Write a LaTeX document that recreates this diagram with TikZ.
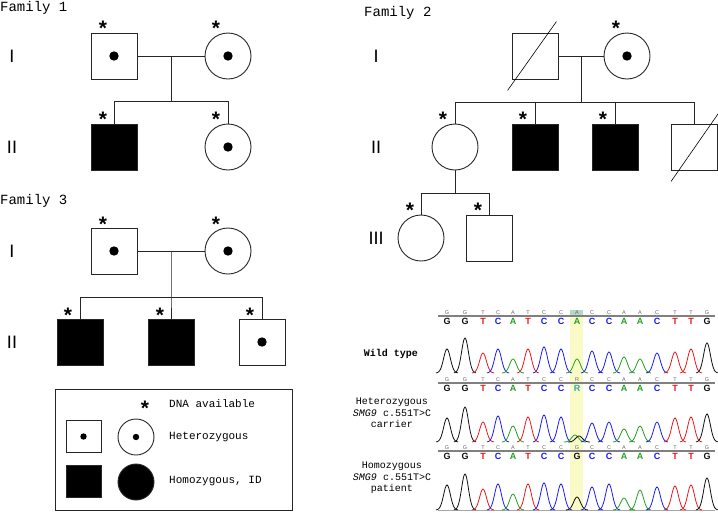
\documentclass[tikz,border=0pt]{standalone}
\usepackage{fontspec}
\setmainfont{Liberation Mono}
\newfontfamily\sansf{Liberation Sans}
\usetikzlibrary{calc}
\definecolor{gk}{HTML}{101010}
\definecolor{tr}{HTML}{E81818}
\definecolor{cb}{HTML}{1A1AF0}
\definecolor{ag}{HTML}{22A022}
\definecolor{hl}{HTML}{FAFAC6}
\definecolor{hlt}{HTML}{B4D8C8}
\definecolor{rt}{HTML}{30A8B8}
\newcommand\peaksrow[2]{%
  \foreach \px/\py/\pc in {#2}{%
    \pgfmathsetmacro\lo{\px-11}\pgfmathsetmacro\hi{\px+11}%
    \draw[color=\pc, line width=0.8pt] plot[domain=\lo:\hi, samples=25, smooth, variable=\t]
      (\t,{#1-(#1-\py)*exp(-((\t-\px)/4.8)^2)});
  }}
\newcommand\lettersrow[2]{%
  \foreach \px/\l/\pc in {#2}{%
    \node[biglet, text=\pc] at (\px,#1+5) {\l};
    \node[smalllet] at (\px,#1-3) {\l};
  }}
\begin{document}
\begin{tikzpicture}[x=1pt,y=-1pt,
  ped/.style={draw=black!85, line width=0.9pt},
  sq/.style={ped, rectangle, minimum size=46pt, inner sep=0pt},
  ci/.style={ped, circle, minimum size=46pt, inner sep=0pt},
  aff/.style={fill=black},
  ast/.style={font=\sansf\bfseries\fontsize{21}{21}\selectfont, inner sep=0pt, anchor=base},
  gen/.style={font=\sansf\fontsize{18}{18}\selectfont, inner sep=0pt},
  fam/.style={font=\fontsize{14}{14}\selectfont, inner sep=0pt, anchor=base west},
  legtxt/.style={font=\fontsize{11}{11}\selectfont, inner sep=0pt, anchor=west},
  chlab/.style={font=\fontsize{10}{11.5}\selectfont, inner sep=0pt, align=center},
  biglet/.style={font=\sansf\bfseries\fontsize{9}{9}\selectfont, inner sep=0pt},
  smalllet/.style={font=\sansf\fontsize{5.5}{5.5}\selectfont, inner sep=0pt, text=black!60},
  axisl/.style={draw=black!50, line width=1.3pt}]
\useasboundingbox (0,0) rectangle (718,512);

% ---------- Family 1 ----------
\node[fam] (fam1) at (0,11) {Family 1};
\node[gen] (g1a) at (12,56) {I};
\node[gen] (g1b) at (12,147) {II};
\node[sq] (f1a) at (114,56) {};
\node[ci] (f1b) at (228,56) {};
\node[sq,aff] (f1c) at (114,147) {};
\node[ci] (f1d) at (228,147) {};
\fill (f1a.center) circle (4.7);
\fill (f1b.center) circle (4.7);
\fill (f1d.center) circle (4.7);
\coordinate (f1m) at (171,56);
\coordinate (f1s) at (171,101);
\draw[ped] (f1a) -- (f1b);
\draw[ped] (f1m) -- (f1s);
\draw[ped] (f1c.north) -- (f1c.north |- f1s) -- (f1d.north |- f1s) -- (f1d.north);
\node[ast] (s1a) at (103,35) {*};
\node[ast] (s1b) at (216,35) {*};
\node[ast] (s1c) at (103,126) {*};
\node[ast] (s1d) at (216,126) {*};

% ---------- Family 3 ----------
\node[fam] (fam3) at (0,204) {Family 3};
\node[gen] (g3a) at (12,251) {I};
\node[gen] (g3b) at (12,342) {II};
\node[sq] (f3a) at (114,251) {};
\node[ci] (f3b) at (228,251) {};
\node[sq,aff] (f3c) at (80,342) {};
\node[sq,aff] (f3d) at (171,342) {};
\node[sq] (f3e) at (262,342) {};
\fill (f3a.center) circle (4.7);
\fill (f3b.center) circle (4.7);
\fill (f3e.center) circle (4.7);
\coordinate (f3m) at (171,251);
\coordinate (f3s) at (171,297);
\draw[ped] (f3a) -- (f3b);
\draw[ped] (f3m) -- (f3s) -- (f3d.north);
\draw[ped] (f3c.north) -- (f3c.north |- f3s) -- (f3e.north |- f3s) -- (f3e.north);
\node[ast] (s3a) at (103,231) {*};
\node[ast] (s3b) at (216,231) {*};
\node[ast] (s3c) at (68,322) {*};
\node[ast] (s3d) at (160,322) {*};
\node[ast] (s3e) at (250,322) {*};

% ---------- Family 2 ----------
\node[fam] (fam2) at (364,16) {Family 2};
\node[gen] (g2a) at (376,56) {I};
\node[gen] (g2b) at (376,147) {II};
\node[gen] (g2c) at (376,238) {III};
\node[sq] (f2a) at (535,56) {};
\node[ci] (f2b) at (627,56) {};
\fill (f2b.center) circle (4.7);
\node[ci] (f2c) at (455,147) {};
\node[sq,aff] (f2d) at (535,147) {};
\node[sq,aff] (f2e) at (615,147) {};
\node[sq] (f2f) at (694.5,147) {};
\node[ci] (f2g) at (421,238) {};
\node[sq] (f2h) at (489.5,238.5) {};
\draw[line width=0.6pt] ($(f2a.south west)+(-4,11)$) -- ($(f2a.north east)+(-2,-11)$);
\draw[line width=0.6pt] ($(f2f.south west)+(0,11)$) -- ($(f2f.north east)+(1,-11)$);
\coordinate (f2m) at (581,56);
\coordinate (f2s) at (581,102);
\coordinate (f2t) at (455,193);
\draw[ped] (f2a) -- (f2b);
\draw[ped] (f2m) -- (f2s);
\draw[ped] (f2c.north) -- (f2c.north |- f2s) -- (f2f.north |- f2s) -- (f2f.north);
\draw[ped] (f2d.north) -- (f2d.north |- f2s);
\draw[ped] (f2e.north) -- (f2e.north |- f2s);
\draw[ped] (f2c.south) -- (f2t);
\draw[ped] (f2g.north) -- (f2g.north |- f2t) -- (f2h.north |- f2t) -- (f2h.north);
\node[ast] (s2a) at (616,35) {*};
\node[ast] (s2b) at (443,126) {*};
\node[ast] (s2c) at (523,126) {*};
\node[ast] (s2d) at (603,126) {*};
\node[ast] (s2e) at (410,217) {*};
\node[ast] (s2f) at (478,217) {*};

% ---------- Legend ----------
\node[ped, rectangle, minimum width=237pt, minimum height=121pt, inner sep=0pt] (leg) at (173.5,449.5) {};
\node[ast] (sleg) at (145,415) {*};
\node[legtxt] (l1) at (169,404) {DNA available};
\node[ped, rectangle, minimum width=35pt, minimum height=32pt, inner sep=0pt] (lsq) at (83.5,436.5) {};
\node[ped, circle, minimum size=36pt, inner sep=0pt] (lci) at (136,437) {};
\fill (lsq.center) circle (3.2);
\fill (lci.center) circle (3.2);
\node[legtxt] (l2) at (169,437) {Heterozygous};
\node[ped, rectangle, aff, minimum width=35pt, minimum height=32pt, inner sep=0pt] (lsqa) at (83.5,481) {};
\node[ped, circle, aff, minimum size=36pt, inner sep=0pt] (lcia) at (136,482) {};
\node[legtxt] (l3) at (169,481) {Homozygous, ID};

% ---------- Chromatograms ----------
\fill[hl] (570,310) rectangle (583,510);
\fill[hlt] (570,310) rectangle (583,315);
\node[chlab, font=\bfseries\fontsize{10}{11.5}\selectfont] (c1) at (391,354) {Wild type};
\node[chlab] (c2) at (392,413) {Heterozygous\\\textit{SMG9} c.551T>C\\carrier};
\node[chlab] (c3) at (392,478) {Homozygous\\\textit{SMG9} c.551T>C\\patient};

% axes
\draw[axisl] (438,316) -- (715,316);
\draw[axisl] (438,383) -- (715,383);
\draw[axisl] (438,451) -- (715,451);
\draw[draw=black!35, line width=0.8pt] (438,510) -- (715,510);

% letters
\lettersrow{316}{447/G/gk, 465/G/gk, 483/T/tr, 498/C/cb, 513/A/ag, 528/T/tr, 544/C/cb, 561/C/cb, 577/A/ag, 592/C/cb, 609/C/cb, 624/A/ag, 640/A/ag, 657/C/cb, 675/T/tr, 691/T/tr, 707/G/gk}
\lettersrow{383}{447/G/gk, 465/G/gk, 483/T/tr, 498/C/cb, 513/A/ag, 528/T/tr, 544/C/cb, 561/C/cb, 577/R/rt, 592/C/cb, 609/C/cb, 624/A/ag, 640/A/ag, 657/C/cb, 675/T/tr, 691/T/tr, 707/G/gk}
\lettersrow{451}{447/G/gk, 465/G/gk, 483/T/tr, 498/C/cb, 513/A/ag, 528/T/tr, 544/C/cb, 561/C/cb, 577/G/gk, 592/C/cb, 609/C/cb, 624/A/ag, 640/A/ag, 657/C/cb, 675/T/tr, 691/T/tr, 707/G/gk}

% traces
\peaksrow{373}{447/349/gk, 465/338/gk, 483/353/tr, 498/349/cb, 513/359/ag, 528/349/tr, 544/347/cb, 561/349/cb, 577/359/ag, 592/351/cb, 609/352/cb, 624/357/ag, 640/359/ag, 657/353/cb, 675/352/tr, 691/349/tr, 707/343/gk}
\peaksrow{442}{447/418/gk, 465/407/gk, 483/422/tr, 498/416/cb, 513/426/ag, 528/417/tr, 544/415/cb, 561/417/cb, 575/435/ag, 579/436/gk, 592/423/cb, 609/422/cb, 624/429/ag, 640/426/ag, 657/422/cb, 675/418/tr, 691/417/tr, 707/414/gk}
\peaksrow{510}{447/485/gk, 465/474/gk, 483/489/tr, 498/484/cb, 513/494/ag, 528/484/tr, 544/483/cb, 561/484/cb, 577/497/gk, 592/487/cb, 609/484/cb, 624/498/ag, 640/490/ag, 657/487/cb, 675/486/tr, 691/485/tr, 707/478/gk}
\end{tikzpicture}
\end{document}
